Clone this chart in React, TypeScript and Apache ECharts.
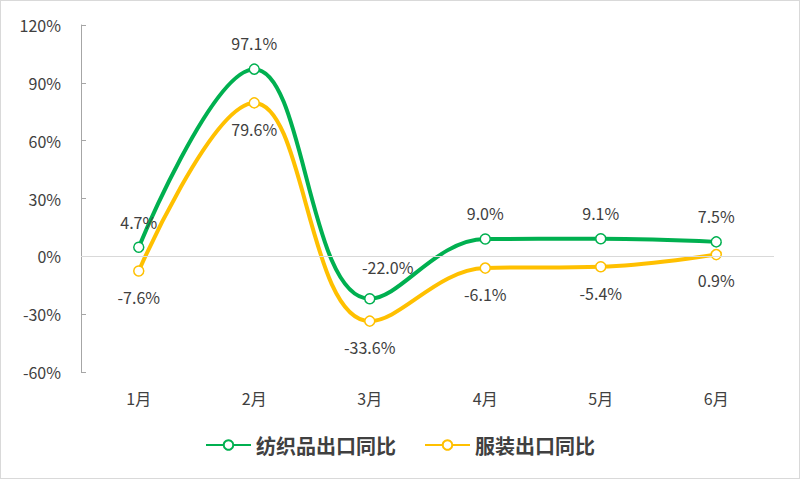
import { useEffect, useRef } from "react";
import * as echarts from "echarts";

const MONTHS = ["1月", "2月", "3月", "4月", "5月", "6月"];
const TEXTILE = [4.7, 97.1, -22.0, 9.0, 9.1, 7.5];
const APPAREL = [-7.6, 79.6, -33.6, -6.1, -5.4, 0.9];
const SERIES_NAMES = ["纺织品出口同比", "服装出口同比"];

const GREEN = "#00b050";
const YELLOW = "#ffc000";
const FONT = "'Noto Sans CJK SC', 'Noto Sans', sans-serif";

export default function App() {
  const ref = useRef<HTMLDivElement>(null);

  useEffect(() => {
    document.body.style.margin = "0";
    if (!ref.current) return;
    const chart = echarts.init(ref.current, undefined, { renderer: "svg" });

    const labelStyle = {
      show: true,
      formatter: (p: { value: number }) => `${p.value.toFixed(1)}%`,
      fontSize: 16,
      color: "#404040",
      fontFamily: FONT,
    };

    chart.setOption({
      animation: false,
      backgroundColor: "#fff",
      grid: { left: 80, right: 25, top: 24, bottom: 106 },
      legend: {
        bottom: 18,
        left: "center",
        itemWidth: 45,
        itemHeight: 12,
        itemGap: 28,
        textStyle: { fontSize: 20, fontWeight: "bold", color: "#404040", fontFamily: FONT },
        data: SERIES_NAMES,
      },
      xAxis: {
        type: "category",
        data: MONTHS,
        boundaryGap: true,
        axisLine: { show: false },
        axisTick: { show: false },
        axisLabel: { fontSize: 16, color: "#404040", margin: 18, fontFamily: FONT },
      },
      yAxis: {
        type: "value",
        min: -60,
        max: 120,
        interval: 30,
        axisLine: { show: true, lineStyle: { color: "#a6a6a6", width: 1 } },
        axisTick: { show: true, inside: true, length: 5, lineStyle: { color: "#a6a6a6" } },
        splitLine: { show: false },
        axisLabel: {
          fontSize: 16,
          color: "#404040",
          margin: 20,
          fontFamily: FONT,
          formatter: (v: number) => `${v}%`,
        },
      },
      series: [
        {
          name: SERIES_NAMES[0],
          type: "line",
          smooth: 0.4,
          z: 3,
          data: TEXTILE.map((v, i) =>
            i === 2
              ? { value: v, label: { position: "top", offset: [18, -6] } }
              : { value: v }
          ),
          symbol: "circle",
          symbolSize: 10,
          lineStyle: { color: GREEN, width: 4 },
          itemStyle: { color: "#fff", borderColor: GREEN, borderWidth: 1.5 },
          label: { ...labelStyle, position: "top", distance: 12 },
          markLine: {
            silent: true,
            symbol: "none",
            label: { show: false },
            lineStyle: { color: "#d9d9d9", type: "solid", width: 1 },
            data: [{ yAxis: 0 }],
          },
        },
        {
          name: SERIES_NAMES[1],
          type: "line",
          smooth: 0.4,
          z: 2,
          data: APPAREL,
          symbol: "circle",
          symbolSize: 10,
          lineStyle: { color: YELLOW, width: 4 },
          itemStyle: { color: "#fff", borderColor: YELLOW, borderWidth: 1.5 },
          label: { ...labelStyle, position: "bottom", distance: 12 },
        },
      ],
    });

    return () => chart.dispose();
  }, []);

  return (
    <div
      style={{
        width: 800,
        height: 479,
        boxSizing: "border-box",
        border: "1px solid #d9d9d9",
        background: "#fff",
      }}
    >
      <div ref={ref} style={{ width: 798, height: 477 }} />
    </div>
  );
}
